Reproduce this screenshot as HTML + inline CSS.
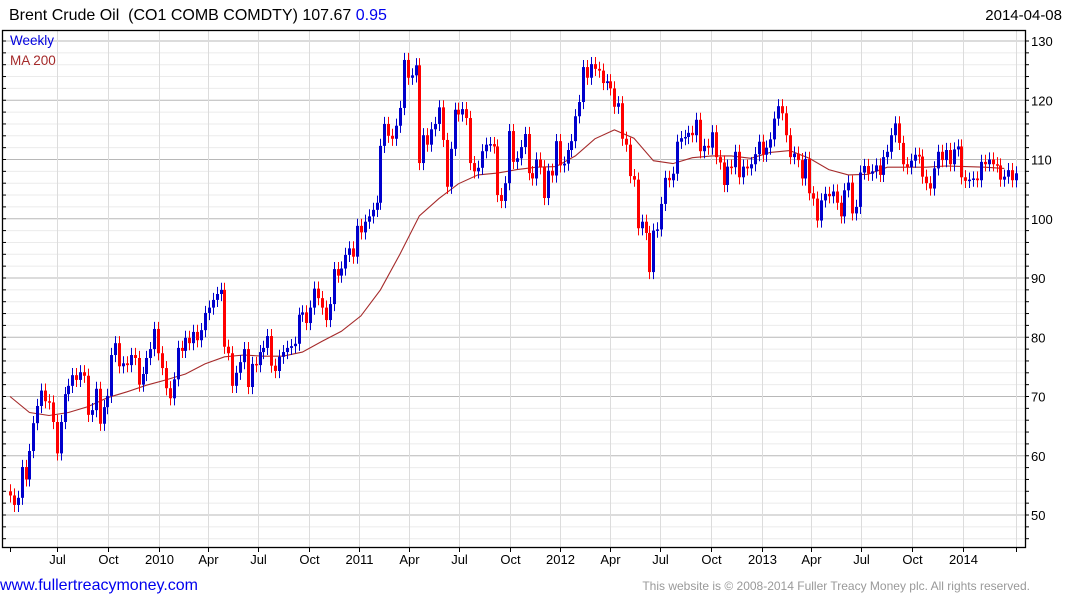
<!DOCTYPE html>
<html><head><meta charset="utf-8">
<style>
html,body{margin:0;padding:0;background:#fff;width:1075px;height:600px;overflow:hidden;font-family:"Liberation Sans",Arial,sans-serif}
svg{position:absolute;left:0;top:0}
</style></head>
<body>
<svg id="chart" width="1075" height="600" viewBox="0 0 1075 600">
  <text x="9" y="20" font-size="16" fill="#000" xml:space="preserve">Brent Crude Oil  (CO1 COMB COMDTY) 107.67 <tspan fill="#0000ee">0.95</tspan></text>
  <text x="1062" y="20" font-size="15" text-anchor="end" fill="#000">2014-04-08</text>
  <g id="grid"></g>
  <g id="ma"></g>
  <g id="candles"></g>
  <g id="axes"></g>
  <text x="10" y="45" font-size="13.5" fill="#0000dd">Weekly</text>
  <text x="10" y="65" font-size="13.5" fill="#a52a2a">MA 200</text>
  <text x="0" y="590" font-size="16" fill="#0000ee">www.fullertreacymoney.com</text>
  <text x="1030" y="590" font-size="12" text-anchor="end" fill="#999">This website is © 2008-2014 Fuller Treacy Money plc. All rights reserved.</text>
</svg>
<script>
const closes = [53.3,51.7,52.9,58.1,56,60.8,65.5,68.4,71,69.2,69,65.7,60.4,65.7,70.4,71.8,73.6,72.8,74.1,73.5,66.9,67.7,71.3,65.4,68.2,70.1,77,79,75.1,75.6,75.3,77,76.5,72,73.8,76.5,78,81.4,77.3,74.8,71.4,69.7,72.9,78.2,77.7,79.9,79,80.9,79.5,81.2,84.1,85,86.3,87.3,88,78.4,77.3,71.8,74,75.8,78,71.6,75.5,
75.3,77.5,78.2,80.2,75.2,74.3,76.7,77.5,78.2,78.5,78.9,83.8,84.2,82.4,85,88.2,86.6,85,82.9,85.6,91.5,90.4,91.6,93.9,95,93.6,98.8,97.7,99.5,100.4,101.5,102.7,112.3,116,114,113.5,115.7,118.7,126.8,123.8,124.2,125.9,109.4,114.1,112.5,115.1,116,118.8,113.3,105.4,111.8,118.4,117.6,118.5,117,109.4,108,108.6,111.4,112.5,112.6,112.2,
104,103,106,114.8,109.6,110.2,112.1,114.3,107.7,106.8,110,108.7,103.5,108.1,107.3,113.1,109,109.3,111.6,113.1,117.3,119.7,125.6,123.8,126.1,125.3,125,122.9,123.2,122,118.9,119.5,113.5,112.5,107.2,106.6,98.4,99.5,97.6,91,98,98.2,102.5,106.9,106.5,107.6,113,113.6,113.8,114.5,114.1,116.7,111.4,112.3,112,114.6,110.4,109.5,105.7,108.8,108.7,111.3,107,108.8,108.5,109.2,110.9,
113,110.8,112,113.4,116.9,119,117.8,114.1,110.4,111,109.9,106.8,110.1,104.3,103.4,99.7,103.1,104.2,103.8,104.6,102.7,100.4,104.8,106.1,100.9,102,107.8,108.9,107.6,108,109,107.4,110.4,111.3,114.1,116.1,112.8,109.2,108.7,109.8,110.8,110.5,107.1,106,105.1,108.5,111.3,109.9,111.6,109.2,111.7,112.2,107,106.4,106.6,106.8,106.5,109.6,109.2,110,109.2,109,106.6,107.1,108.2,106.5,107.67];
const firstOpen = 54.0;
const maValues = [70,67.3,66.8,67.3,68.3,69.8,70.8,71.9,72.8,73.8,75.5,76.7,77,76.8,76.8,77.5,79.3,81,83.6,88,94,100.5,103.4,105.9,107.4,107.7,108.3,108.7,108.8,110.6,113.5,115,113.6,109.8,109.3,110.3,110.6,110.6,110.2,111.2,111.5,110.2,108.3,107.4,107.5,108.7,108.7,108.7,108.9,108.8,108.7,108.5];
const maStep = 5;
const yTicks = [50,60,70,80,90,100,110,120,130];
const xTickLabels = ["Jul","Oct","2010","Apr","Jul","Oct","2011","Apr","Jul","Oct","2012","Apr","Jul","Oct","2013","Apr","Jul","Oct","2014"];
const xTickDates = ["2009-07-01","2009-10-01","2010-01-01","2010-04-01","2010-07-01","2010-10-01","2011-01-01","2011-04-01","2011-07-01","2011-10-01","2012-01-01","2012-04-01","2012-07-01","2012-10-01","2013-01-01","2013-04-01","2013-07-01","2013-10-01","2014-01-01"];

const NS="http://www.w3.org/2000/svg";
const L=2,R=1025,T=30,B=547;
const X0=10,X1=1016;
const yS=v=>41+(130-v)*(474/80);
const n=closes.length;
const xI=i=>X0+i*(X1-X0)/(n-1);
const d0=Date.parse("2009-04-06"),d1=Date.parse("2014-04-08");
const xD=s=>X0+(Date.parse(s)-d0)/(d1-d0)*(X1-X0);
function mk(tag,attrs,parent){const e=document.createElementNS(NS,tag);for(const k in attrs)e.setAttribute(k,attrs[k]);parent.appendChild(e);return e;}
const grid=document.getElementById('grid'),axes=document.getElementById('axes'),cg=document.getElementById('candles'),mg=document.getElementById('ma');
for(let v=46;v<=132;v+=2){const y=yS(v);if(y<T||y>B)continue;
  const l=mk('line',{x1:L,x2:R,y1:y,y2:y,stroke:(v%10===0)?'#b8b8b8':'#ebebeb','stroke-width':1},grid);
  
  
  const t=mk('line',{x1:R,x2:R+4,y1:y,y2:y,stroke:'#000'},axes);
  
  
  const t2=mk('line',{x1:L,x2:L+4,y1:y,y2:y,stroke:'#000'},axes);
  
  
}
xTickDates.forEach((d,i)=>{const x=Math.round(xD(d))+0.5;
  const g=mk('line',{x1:x,x2:x,y1:T,y2:B,stroke:'#dcdcdc'},grid);
  
  
  const t=mk('line',{x1:x,x2:x,y1:B,y2:B+5,stroke:'#000'},axes);
  
  
  const tx=mk('text',{x:x,y:B+17,'font-size':13,'text-anchor':'middle',fill:'#000'},axes);
  tx.textContent=xTickLabels[i];
  
  
});
[X0,X1].forEach(xx=>{const x=xx+0.5;
  const g=mk('line',{x1:x,x2:x,y1:B,y2:B+5,stroke:'#000'},axes);
  
  
});
{const g=mk('line',{x1:X1+0.5,x2:X1+0.5,y1:T,y2:B,stroke:'#dcdcdc'},grid);
 
 }
yTicks.forEach(v=>{const tx=mk('text',{x:R+6,y:yS(v)+5,'font-size':13,fill:'#000'},axes);
  tx.textContent=v;
  
  });
const fr=mk('rect',{x:L+0.5,y:T+0.5,width:R-L,height:B-T,fill:'none',stroke:'#000','stroke-width':1.3},axes);


let pts=maValues.map((v,k)=>xI(Math.min(k*maStep,n-1)).toFixed(1)+','+yS(v).toFixed(1)).join(' ');
const pl=mk('polyline',{points:pts,fill:'none',stroke:'#a52a2a','stroke-width':1.1},mg);


for(let i=0;i<n;i++){
  const o=i===0?firstOpen:closes[i-1],c=closes[i];
  const up=c>=o,col=up?'#0000cc':'#ff0000';
  const hi=Math.max(o,c)+1.2,lo=Math.min(o,c)-1.2;
  const x=Math.round(xI(i));
  const w=mk('line',{x1:x+0.5,x2:x+0.5,y1:yS(hi),y2:yS(lo),stroke:col,'stroke-width':1},cg);
  
  
  const yt=yS(Math.max(o,c)),yb=yS(Math.min(o,c));
  const b=mk('rect',{x:x-1,y:yt,width:3,height:Math.max(1.5,yb-yt),fill:col},cg);
  
  
}
</script>
</body></html>
